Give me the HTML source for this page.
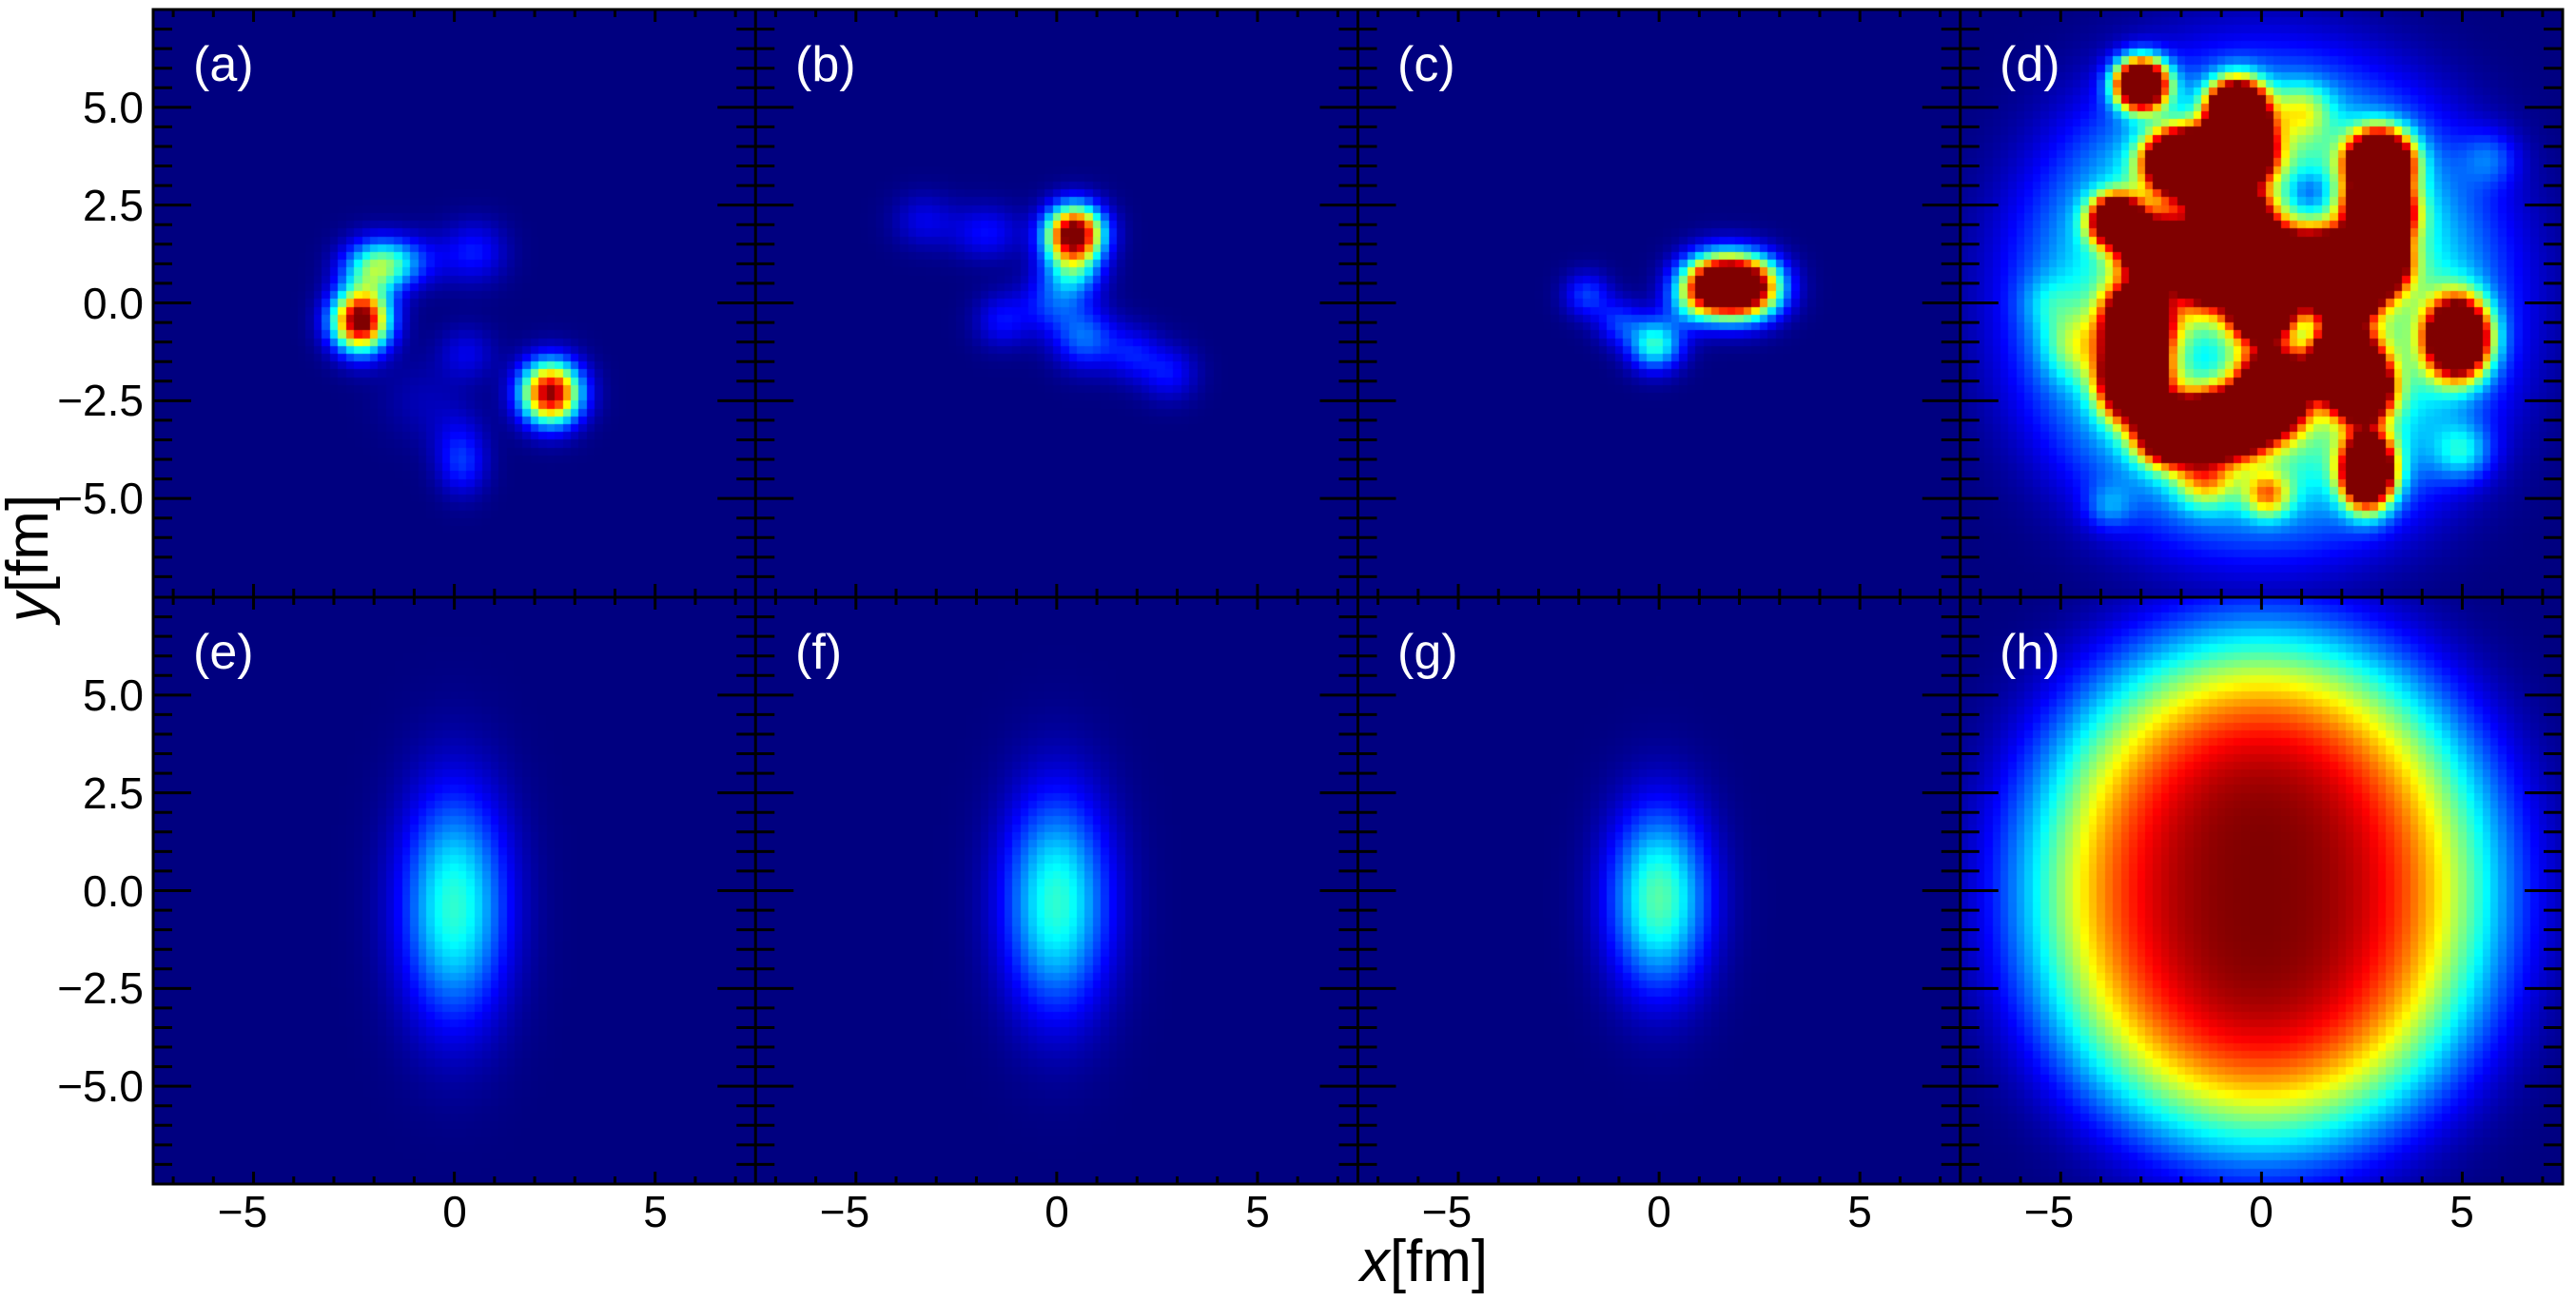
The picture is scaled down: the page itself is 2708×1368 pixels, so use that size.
<!DOCTYPE html>
<html><head><meta charset="utf-8">
<style>
html,body{margin:0;padding:0;background:#fff;}
#wrap{position:relative;width:2708px;height:1368px;overflow:hidden;background:#fff;}
canvas{position:absolute;left:0;top:0;}
svg{position:absolute;left:0;top:0;}
text{font-family:"Liberation Sans",sans-serif;}
</style></head>
<body><div id="wrap">
<canvas id="c" width="2708" height="1368"></canvas>
<svg id="s" width="2708" height="1368" viewBox="0 0 2708 1368">
<g id="ticks" stroke="#000" stroke-width="3" fill="none"></g>
<g id="borders" stroke="#000" stroke-width="3" fill="none">
<rect x="161" y="10" width="2533" height="1235"/>
<line x1="161" y1="628" x2="2694" y2="628"/>
<line x1="794.25" y1="10" x2="794.25" y2="1245"/>
<line x1="1427.5" y1="10" x2="1427.5" y2="1245"/>
<line x1="2060.75" y1="10" x2="2060.75" y2="1245"/>
</g>
<g fill="#fff" font-size="52">
<text x="203" y="85">(a)</text><text x="836" y="85">(b)</text><text x="1469" y="85">(c)</text><text x="2102" y="85">(d)</text>
<text x="203" y="703">(e)</text><text x="836" y="703">(f)</text><text x="1469" y="703">(g)</text><text x="2102" y="703">(h)</text>
</g>
<g fill="#000" font-size="46" text-anchor="end">
<text x="151" y="129">5.0</text><text x="151" y="232">2.5</text><text x="151" y="335">0.0</text><text x="151" y="437">−2.5</text><text x="151" y="540">−5.0</text>
<text x="151" y="747">5.0</text><text x="151" y="850">2.5</text><text x="151" y="953">0.0</text><text x="151" y="1055">−2.5</text><text x="151" y="1158">−5.0</text>
</g>
<g fill="#000" font-size="46" text-anchor="middle">
<text x="255" y="1290">−5</text><text x="478" y="1290">0</text><text x="689" y="1290">5</text>
<text x="888" y="1290">−5</text><text x="1111" y="1290">0</text><text x="1322" y="1290">5</text>
<text x="1521" y="1290">−5</text><text x="1744" y="1290">0</text><text x="1955" y="1290">5</text>
<text x="2154" y="1290">−5</text><text x="2377" y="1290">0</text><text x="2588" y="1290">5</text>
</g>
<text x="1497" y="1347" font-size="62" text-anchor="middle" fill="#000"><tspan font-style="italic">x</tspan>[fm]</text>
<text transform="translate(50,587) rotate(-90)" font-size="62" text-anchor="middle" fill="#000"><tspan font-style="italic">y</tspan>[fm]</text>
</svg>
</div>
<script>
(function(){
var W=633.25,H=617,X0=161,Ys=[10,628];
function jet(v){v=Math.max(0,Math.min(1,v));
 function c(t){return Math.max(0,Math.min(1,1.5-Math.abs(t)));}
 return [c(4*v-3)*255,c(4*v-2)*255,c(4*v-1)*255];}
function G(list,sc){sc=sc||1;return function(x,y){var s=0;for(var i=0;i<list.length;i++){var b=list[i];var dx=(x-b[0])/(b[2]*sc),dy=(y-b[1])/(b[3]*sc);s+=b[4]*Math.exp(-0.5*(dx*dx+dy*dy));}return s;};}
var fa=G([[-2.35,-0.45,0.4,0.4,0.95],[-2.2,0.35,0.4,0.5,0.2],[-2.0,0.95,0.45,0.4,0.3],[-1.5,1.0,0.4,0.35,0.18],[-0.9,1.1,0.5,0.4,0.1],[0.5,1.3,0.45,0.45,0.14],[-2.3,-1.0,0.4,0.4,0.12],[0.3,-1.3,0.4,0.4,0.1],[0.1,-3.5,0.4,0.5,0.08],[0.2,-4.2,0.35,0.45,0.13],[-0.8,-2.5,0.6,0.6,0.05],[2.4,-2.3,0.42,0.45,1.0]],1.2);
var fb=G([[0.45,1.8,0.4,0.4,1.0],[0.3,1.1,0.4,0.5,0.22],[-3.3,2.1,0.45,0.4,0.1],[-1.75,1.8,0.5,0.4,0.13],[-0.1,0.0,0.45,0.45,0.16],[-1.35,-0.45,0.4,0.4,0.13],[0.7,-0.9,0.45,0.45,0.22],[1.9,-1.3,0.4,0.4,0.13],[2.8,-1.8,0.4,0.4,0.13],[0.5,0.8,0.4,0.4,0.16]],1.2);
var fc=G([[1.4,0.45,0.5,0.45,1.1],[2.2,0.4,0.5,0.45,1.1],[-0.1,-1.05,0.4,0.4,0.42],[-1.8,0.2,0.35,0.35,0.18],[-1.0,-0.5,0.35,0.35,0.16],[0.8,0.0,0.4,0.4,0.18]],1.15);
var red=G([[-3.0,5.6,0.42,0.42,1.8],[-0.6,4.9,0.45,0.5,2],[-0.5,3.9,0.5,0.5,2],[-2.0,3.6,0.55,0.5,2],[-1.2,3.2,0.5,0.5,1.6],[-3.6,2.1,0.42,0.4,1.6],[-2.9,1.3,0.45,0.45,1.0],[-2.4,1.8,0.4,0.4,0.4],
[-1.3,1.0,0.6,0.6,2],[0.2,0.9,0.6,0.55,2],[1.6,0.9,0.55,0.5,2],[-0.6,2.0,0.5,0.5,1.8],[2.95,3.6,0.5,0.5,2],[2.95,2.3,0.5,0.5,2],[2.8,1.0,0.5,0.5,2],
[-3.1,-0.5,0.5,0.6,1.8],[-3.2,-2.0,0.5,0.6,1.8],[-2.2,-3.3,0.55,0.5,1.8],[-0.8,-3.1,0.6,0.5,2],[0.3,-2.3,0.5,0.6,2],[0.0,-0.1,0.45,0.5,2],[2.1,0.2,0.45,0.45,1.8],[2.0,-1.5,0.5,0.55,2],[2.5,-2.2,0.45,0.5,1.8],
[4.9,-0.9,0.5,0.65,1.8],[2.65,-4.3,0.42,0.6,1.8],[0.15,-4.9,0.4,0.4,0.45],[-1.4,-4.5,0.5,0.5,0.4],[1.0,4.9,0.5,0.5,0.3],[5.0,-3.8,0.5,0.5,0.25],[-3.8,-5.2,0.4,0.4,0.15],[5.7,3.7,0.5,0.5,0.15],[-4.6,-1.1,0.6,0.6,0.25],[-5.3,0,0.5,0.5,0.12],
[1.2,2.8,0.45,0.45,-0.25],[-1.4,-1.4,0.5,0.6,-0.15],[1.2,-0.9,0.35,0.4,-0.2]]);
function fd(x,y){var r2=(x/5.9)*(x/5.9)+(y/6.1)*(y/6.1);return 0.52*Math.exp(-r2*r2)+red(x,y);}
function fe(x,y){return 0.42*Math.exp(-0.5*((x/0.9)*(x/0.9)+((y+0.4)/2.0)*((y+0.4)/2.0)));}
function ff(x,y){return 0.42*Math.exp(-0.5*((x/0.9)*(x/0.9)+((y+0.3)/1.9)*((y+0.3)/1.9)));}
function fg(x,y){return 0.46*Math.exp(-0.5*((x/0.85)*(x/0.85)+((y+0.2)/1.6)*((y+0.2)/1.6)));}
function fh(x,y){var r2=(x/6.1)*(x/6.1)+(y/6.4)*(y/6.4);return 1.0*Math.exp(-Math.pow(r2,2.0))*(1-0.07*(x*x)/9);}
var fs=[[fa,fb,fc,fd],[fe,ff,fg,fh]];
var cv=document.getElementById('c'),ctx=cv.getContext('2d');
var N=75;
for(var r=0;r<2;r++)for(var p=0;p<4;p++){
 var off=document.createElement('canvas');off.width=N;off.height=N;var oc=off.getContext('2d');
 var img=oc.createImageData(N,N);var f=fs[r][p];
 for(var j=0;j<N;j++)for(var i=0;i<N;i++){
  var x=-7.5+0.2*(i+0.5),y=7.5-0.2*(j+0.5);var c=jet(f(x,y));var k=4*(j*N+i);
  img.data[k]=c[0];img.data[k+1]=c[1];img.data[k+2]=c[2];img.data[k+3]=255;}
 oc.putImageData(img,0,0);
 ctx.imageSmoothingEnabled=false;
 ctx.drawImage(off,X0+p*W,Ys[r],W,H);
}
var g=document.getElementById('ticks'),d='';
for(var r=0;r<2;r++){var y0=Ys[r];
 for(var p=0;p<4;p++){var x0=X0+p*W;
  for(var k=-14;k<=14;k++){var v=k*0.5;var py=y0+(7.5-v)/15*H;var L=(k%5==0)?40:20;
   d+='M'+x0+' '+py+'h'+L+'M'+(x0+W)+' '+py+'h'+(-L);}
  for(var k=-7;k<=7;k++){var px=x0+(k+7.5)/15*W;var L=(k%5==0)?13:8;
   d+='M'+px+' '+y0+'v'+L+'M'+px+' '+(y0+H)+'v'+(-L);}
 }}
var path=document.createElementNS('http://www.w3.org/2000/svg','path');path.setAttribute('d',d);g.appendChild(path);
})();
</script>
</body></html>
